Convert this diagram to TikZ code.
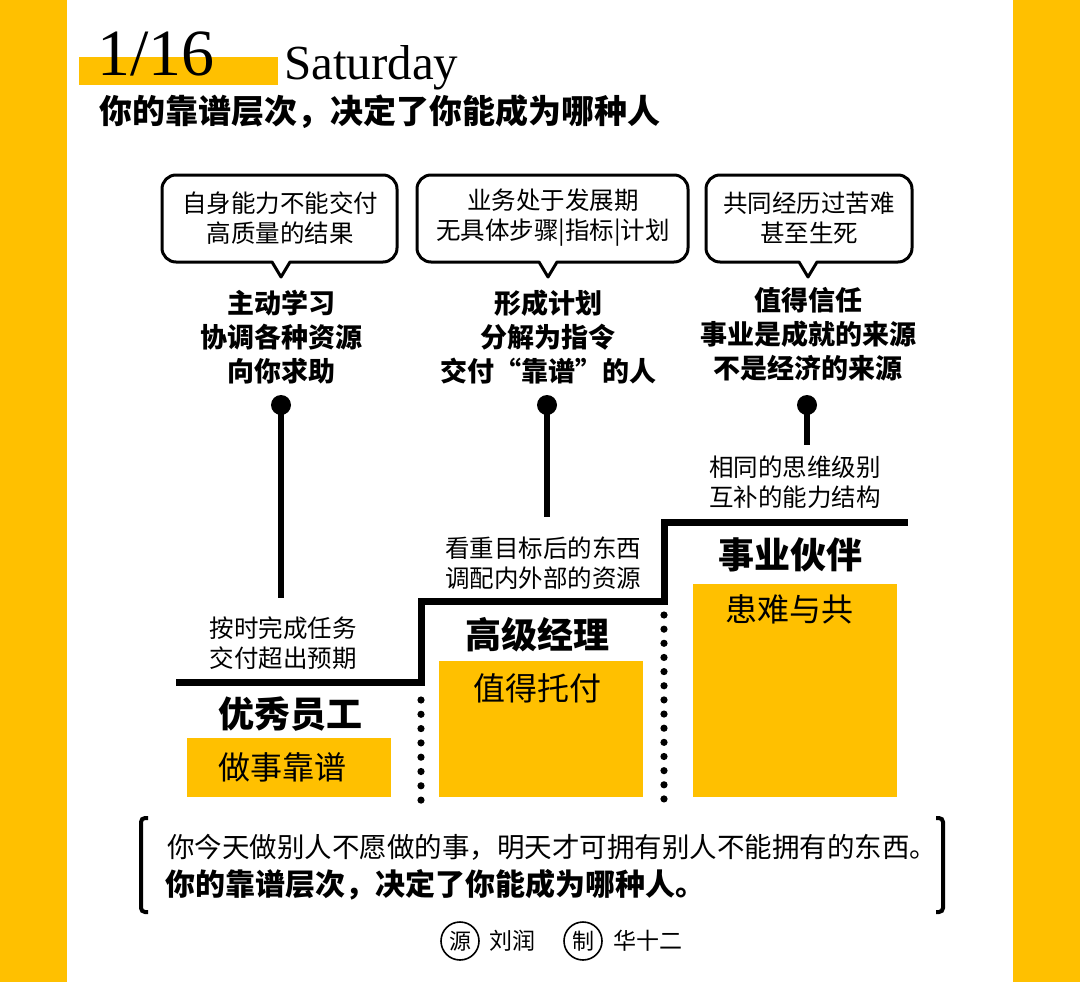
\documentclass[tikz,border=0pt]{standalone}
\usepackage{fontspec}
\setmainfont{Liberation Serif}
\newfontfamily\cjk{Noto Sans CJK SC}
\definecolor{ylw}{HTML}{FFC000}
\begin{document}
\begin{tikzpicture}[x=1pt,y=-1pt,
  txt/.style={font=\cjk\fontsize{24.5}{30}\selectfont, align=center, inner sep=0pt},
  bld/.style={font=\cjk\bfseries\fontsize{27}{34}\selectfont, align=center, inner sep=0pt},
  head/.style={font=\cjk\bfseries\fontsize{36}{40}\selectfont, inner sep=0pt},
  boxtxt/.style={font=\cjk\fontsize{32}{36}\selectfont, inner sep=0pt},
  bubble/.style={draw, line width=3pt, line join=round},
  pindot/.style={circle, fill=black, inner sep=0pt, minimum size=20pt},
  pinline/.style={line width=6pt},
  stair/.style={line width=7pt, line join=miter},
  ybox/.style={fill=ylw, draw=none},
  bracket/.style={line width=4pt, rounded corners=4pt},
  seal/.style={circle, draw, line width=1.6pt, minimum size=38pt, inner sep=0pt, font=\cjk\fontsize{22}{24}\selectfont},
  foot/.style={font=\cjk\fontsize{23}{26}\selectfont, inner sep=0pt}]
\useasboundingbox (0,0) rectangle (1080,982);
\fill[white] (0,0) rectangle (1080,982);
% side strips
\fill[ylw] (0,0) rectangle (67,982);
\fill[ylw] (1013,0) rectangle (1080,982);
% header
\fill[ylw] (79,57) rectangle (278,85);
\node[anchor=base west, inner sep=0pt, font=\fontsize{66}{70}\selectfont] (date) at (97,76) {1/16};
\node[anchor=base west, inner sep=0pt, font=\fontsize{49}{52}\selectfont] (day) at (284,80) {Saturday};
\node[anchor=west, inner sep=0pt, font=\cjk\bfseries\fontsize{33}{36}\selectfont] (title) at (99,112) {你的靠谱层次，决定了你能成为哪种人};
% bubbles
\draw[bubble] (272,262) [rounded corners=14pt] -- (162,262) -- (162,175) -- (397,175) -- (397,262) [sharp corners] -- (290,262) -- (281,277) -- cycle;
\node[txt] (b1) at (280,218) {自身能力不能交付\\高质量的结果};
\draw[bubble] (539,262) [rounded corners=14pt] -- (417,262) -- (417,175) -- (688,175) -- (688,262) [sharp corners] -- (557,262) -- (548,277) -- cycle;
\node[txt] (b2) at (553,218) {业务处于发展期\\无具体步骤|指标|计划};
\draw[bubble] (799,262) [rounded corners=14pt] -- (706,262) -- (706,175) -- (912,175) -- (912,262) [sharp corners] -- (817,262) -- (808,277) -- cycle;
\node[txt] (b3) at (809,218) {共同经历过苦难\\甚至生死};
% bold columns
\node[bld] (c1) at (281,337) {主动学习\\协调各种资源\\向你求助};
\node[bld] (c2) at (548,337) {形成计划\\分解为指令\\交付“靠谱”的人};
\node[bld] (c3) at (808,334) {值得信任\\事业是成就的来源\\不是经济的来源};
% pins
\node[pindot] (p1) at (281,405) {};
\coordinate (p1e) at (281,598);
\draw[pinline] (p1.center) -- (p1e);
\node[pindot] (p2) at (547,405) {};
\coordinate (p2e) at (547,517);
\draw[pinline] (p2.center) -- (p2e);
\node[pindot] (p3) at (807,405) {};
\coordinate (p3e) at (807,445);
\draw[pinline] (p3.center) -- (p3e);
% small texts
\node[txt] (t1) at (283,643) {按时完成任务\\交付超出预期};
\node[txt] (t2) at (543,563) {看重目标后的东西\\调配内外部的资源};
\node[txt] (t3) at (795,482) {相同的思维级别\\互补的能力结构};
% staircase
\coordinate (s0) at (176,682);
\coordinate (s1) at (421,682);
\coordinate (s2) at (421,601);
\coordinate (s3) at (664,601);
\coordinate (s4) at (664,522);
\coordinate (s5) at (908,522);
\draw[stair] (s0) -- (s1) -- (s2) -- (s3) -- (s4) -- (s5);
% dotted separators
\foreach \i in {0,...,7} \fill (421,700+\i*14.3) circle (3.6);
\foreach \i in {0,...,13} \fill (664,615+\i*14.15) circle (3.6);
% levels
\node[head] (h1) at (290,714) {优秀员工};
\fill[ybox] (187,738) rectangle (391,797);
\node[boxtxt] (y1) at (282,767) {做事靠谱};
\node[head] (h2) at (537,635) {高级经理};
\fill[ybox] (439,661) rectangle (643,797);
\node[boxtxt] (y2) at (537,688) {值得托付};
\node[head] (h3) at (790,555) {事业伙伴};
\fill[ybox] (693,584) rectangle (897,797);
\node[boxtxt] (y3) at (789,609) {患难与共};
% quote
\draw[bracket] (148,818) -- (141,818) -- (141,912) -- (148,912);
\draw[bracket] (936,818) -- (943,818) -- (943,912) -- (936,912);
\node[anchor=west, inner sep=0pt, font=\cjk\fontsize{27.5}{30}\selectfont] (q1) at (167,847) {你今天做别人不愿做的事，明天才可拥有别人不能拥有的东西。};
\node[anchor=west, inner sep=0pt, font=\cjk\bfseries\fontsize{30}{32}\selectfont] (q2) at (165,885) {你的靠谱层次，决定了你能成为哪种人。};
% footer
\node[seal] (s1n) at (460,941) {源};
\node[foot] (f1) at (512,941) {刘润};
\node[seal] (s2n) at (583,941) {制};
\node[foot] (f2) at (648,941) {华十二};
\end{tikzpicture}
\end{document}
